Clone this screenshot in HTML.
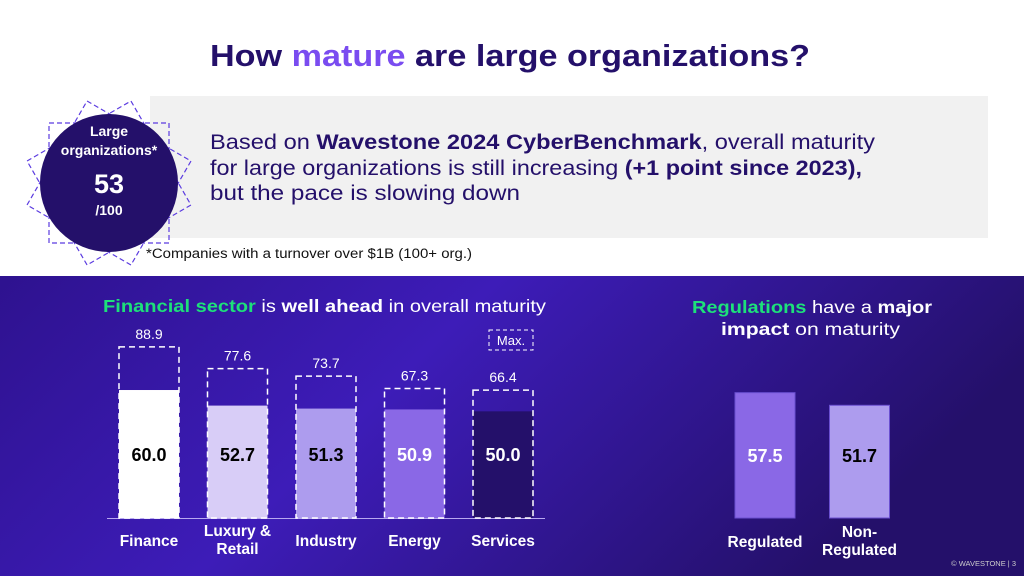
<!DOCTYPE html>
<html><head><meta charset="utf-8"><style>
body{margin:0;width:1024px;height:576px;overflow:hidden;font-family:"Liberation Sans",sans-serif;background:#fff}
</style></head><body>
<svg id="c" width="1024" height="576" viewBox="0 0 1024 576" xmlns="http://www.w3.org/2000/svg">
<defs>
<linearGradient id="bg" x1="0" y1="0" x2="1" y2="0.3">
<stop offset="0" stop-color="#2e128f"/><stop offset="0.45" stop-color="#3d1cb8"/><stop offset="1" stop-color="#24106a"/>
</linearGradient>
</defs>
<text x="210" y="66" font-size="31" font-weight="bold" fill="#24106a" textLength="600" lengthAdjust="spacingAndGlyphs">How <tspan fill="#7a4cf0">mature</tspan> are large organizations?</text>
<rect x="150" y="96" width="838" height="142" fill="#f1f1f1"/>
<g fill="none" stroke="#5b3be0" stroke-width="1.2" stroke-dasharray="5,3">
<rect x="49" y="123" width="120" height="120" transform="rotate(0 109 183)"/>
<rect x="49" y="123" width="120" height="120" transform="rotate(30 109 183)"/>
<rect x="49" y="123" width="120" height="120" transform="rotate(60 109 183)"/>
</g>
<circle cx="109" cy="183" r="69" fill="#24106a"/>
<g fill="#fff" font-weight="bold" text-anchor="middle">
<text x="109" y="136" font-size="14">Large</text>
<text x="109" y="155" font-size="14">organizations*</text>
<text x="109" y="193" font-size="27">53</text>
<text x="109" y="215" font-size="14">/100</text>
</g>
<g font-size="21" fill="#24106a">
<text x="210" y="149" textLength="665" lengthAdjust="spacingAndGlyphs">Based on <tspan font-weight="bold">Wavestone 2024 CyberBenchmark</tspan>, overall maturity</text>
<text x="210" y="175" textLength="652" lengthAdjust="spacingAndGlyphs">for large organizations is still increasing <tspan font-weight="bold">(+1 point since 2023),</tspan></text>
<text x="210" y="200" textLength="310" lengthAdjust="spacingAndGlyphs">but the pace is slowing down</text>
</g>
<text x="146" y="258" font-size="13.5" fill="#111" textLength="326" lengthAdjust="spacingAndGlyphs">*Companies with a turnover over $1B (100+ org.)</text>
<rect x="0" y="276" width="1024" height="300" fill="url(#bg)"/>
<text x="103" y="312" font-size="17.5" fill="#fff" textLength="443" lengthAdjust="spacingAndGlyphs"><tspan fill="#1de07a" font-weight="bold">Financial sector</tspan> is <tspan font-weight="bold">well ahead</tspan> in overall maturity</text>
<text x="692" y="313" font-size="17.5" fill="#fff" textLength="240" lengthAdjust="spacingAndGlyphs"><tspan fill="#1de07a" font-weight="bold">Regulations</tspan> have a <tspan font-weight="bold">major</tspan></text>
<text x="721" y="335" font-size="17.5" fill="#fff" textLength="179" lengthAdjust="spacingAndGlyphs"><tspan font-weight="bold">impact</tspan> on maturity</text>
<rect x="489" y="330" width="44" height="20" fill="none" stroke="#fff" stroke-dasharray="4,3"/>
<text x="511" y="345" font-size="13" fill="#fff" text-anchor="middle">Max.</text>
<line x1="107" y1="518.5" x2="545" y2="518.5" stroke="#b8a8f0" stroke-width="1"/>
<g id="left"></g>
<g id="right"></g>
<text x="1016" y="566" font-size="7.5" fill="#ccc" text-anchor="end">© WAVESTONE | 3</text>
</svg>
<script>
const sectors=["Finance","Luxury & Retail","Industry","Energy","Services"];
const sectorValues=[60.0,52.7,51.3,50.9,50.0];
const sectorMax=[88.9,77.6,73.7,67.3,66.4];
const regCats=["Regulated","Non-Regulated"];
const regValues=[57.5,51.7];
const NS="http://www.w3.org/2000/svg";
const base=518;
const barColors=["#ffffff","#d8cdf7","#ad9cee","#8a68e6","#24106a"];
const labelColors=["#000","#000","#000","#fff","#fff"];
function yVal(v){return base-v*2.133;}
function yMax(v){return base-v*1.925;}
function xBand(i){return 119+i*88.5;}
function yReg(v){return base-v*2.18;}
function xReg(i){return 735+i*94.5;}
function mk(tag,attrs,parent){const e=document.createElementNS(NS,tag);for(const k in attrs)e.setAttribute(k,attrs[k]);parent.appendChild(e);return e;}
const L=document.getElementById('left');
sectors.forEach((s,i)=>{
 const x=xBand(i);
 const b=mk('rect',{x:x,y:yVal(sectorValues[i]),width:60,height:base-yVal(sectorValues[i]),fill:barColors[i]},L);
 
 
 const m=mk('rect',{x:x,y:yMax(sectorMax[i]),width:60,height:base-yMax(sectorMax[i]),fill:'none',stroke:'#fff','stroke-width':1.5,'stroke-dasharray':'6,4'},L);
 
 
 const mt=mk('text',{x:x+30,y:yMax(sectorMax[i])-8,'font-size':14,fill:'#fff','text-anchor':'middle'},L);
 mt.textContent=sectorMax[i].toFixed(1);
 
 
 const vt=mk('text',{x:x+30,y:461,'font-size':18,'font-weight':'bold',fill:labelColors[i],'text-anchor':'middle'},L);
 vt.textContent=sectorValues[i].toFixed(1);
 
 
 const parts=s==="Luxury & Retail"?["Luxury &","Retail"]:[s];
 parts.forEach((p,j)=>{
  const c=mk('text',{x:x+30,y:(parts.length>1?536:546)+j*18,'font-size':15.5,'font-weight':'bold',fill:'#fff','text-anchor':'middle'},L);
  c.textContent=p;
  
  
 });
});
const R=document.getElementById('right');
const regColors=["#8a68e6","#ad9cee"],regLbl=["#fff","#000"];
regCats.forEach((s,i)=>{
 const x=xReg(i);
 const b=mk('rect',{x:x,y:yReg(regValues[i]),width:60,height:base-yReg(regValues[i]),fill:regColors[i],stroke:'#6a4fd0','stroke-width':1},R);
 
 
 const vt=mk('text',{x:x+30,y:462,'font-size':18,'font-weight':'bold',fill:regLbl[i],'text-anchor':'middle'},R);
 vt.textContent=regValues[i].toFixed(1);
 
 
 const parts=s==="Non-Regulated"?["Non-","Regulated"]:[s];
 parts.forEach((p,j)=>{
  const c=mk('text',{x:x+30,y:(parts.length>1?537:547)+j*18,'font-size':15.5,'font-weight':'bold',fill:'#fff','text-anchor':'middle'},R);
  c.textContent=p;
  
  
 });
});
</script>
</body></html>
